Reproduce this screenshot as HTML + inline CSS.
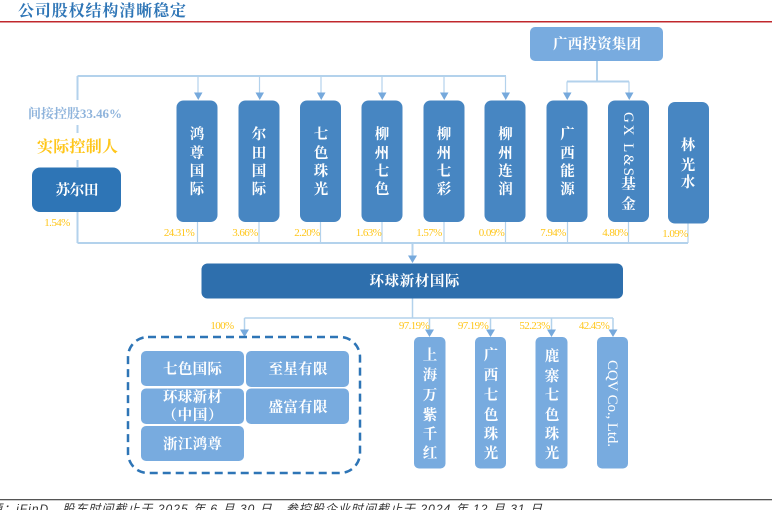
<!DOCTYPE html>
<html lang="zh"><head><meta charset="utf-8">
<style>
html,body{margin:0;padding:0;background:#fff;width:772px;height:510px;overflow:hidden}
svg{display:block}
text{font-family:"Liberation Serif","Noto Serif CJK SC",serif}
.w{fill:#fff;font-size:14.500px;text-anchor:middle;font-weight:700}
.p{fill:#ffc61a;font-size:11px;text-anchor:middle;letter-spacing:-.6px}
.l{stroke:#b3d2ec;stroke-width:2;fill:none}
.t{stroke:#b3d2ec;stroke-width:1.200;fill:none}
.a{fill:#76a9dc}
.b{fill:#4786c2}
.c{fill:#78abdf}
</style></head><body>
<svg width="772" height="510" viewBox="0 0 772 510" xmlns="http://www.w3.org/2000/svg">
<text x="18" y="16" font-size="16" font-weight="700" fill="#2e75b6" textLength="168">公司股权结构清晰稳定</text>
<rect x="0" y="21" width="772" height="1.500" fill="#c0282c"/>

<path class="l" d="M77.500 76V100M77.500 125V133M77.500 160V167M77.500 212V243M77.500 76H506M597 61V81.500M567 81.500H629M77.500 243H688M412.500 243V256"/>
<path class="t" d="M198 76V94M259.500 76V94M321 76V94M382 76V94M444 76V94M505.500 76V94M567 81.500V94M629 81.500V94"/>
<path class="t" d="M197.500 222V243M259 222V243M320.500 222V243M382 222V243M444 222V243M505.500 222V243M567.500 222V243M628.500 222V243M688 223V243"/>
<path class="t" d="M412.500 298V318M244.500 318H613M244.500 318V331M429.500 318V331M490.500 318V331M551.500 318V331M613 318V331" style="stroke-width:1.500"/>
<path class="a" d="M194 92.500h8.500l-4.250 7.500zM255.500 92.500h8.500l-4.250 7.500zM317 92.500h8.500l-4.250 7.500zM378 92.500h8.500l-4.250 7.500zM440 92.500h8.500l-4.250 7.500zM501.500 92.500h8.500l-4.250 7.500zM563 92.500h8.500l-4.250 7.500zM625 92.500h8.500l-4.250 7.500zM408 255.500h9l-4.500 7.500zM240 329.500h9l-4.500 7.500zM425 329.500h9l-4.500 7.500zM486 329.500h9l-4.500 7.500zM547 329.500h9l-4.500 7.500zM608.500 329.500h9l-4.500 7.500z"/>

<rect x="530" y="27" width="133" height="34" rx="5" class="c"/>
<text x="597" y="49" class="w" textLength="88">广西投资集团</text>

<rect x="32" y="167.500" width="89" height="44.500" rx="8" fill="#2e75b6"/>
<text x="77" y="195" class="w" textLength="43">苏尔田</text>
<text x="75" y="118" font-size="13" font-weight="700" fill="#8fb4dc" text-anchor="middle" textLength="94">间接控股33.46%</text>
<text x="77.500" y="152" font-size="16" font-weight="700" fill="#ffc61a" text-anchor="middle" textLength="81">实际控制人</text>

<rect x="176.500" y="100.500" width="41" height="121.500" rx="7" class="b"/>
<rect x="238.500" y="100.500" width="41" height="121.500" rx="7" class="b"/>
<rect x="300" y="100.500" width="41" height="121.500" rx="7" class="b"/>
<rect x="361.500" y="100.500" width="41" height="121.500" rx="7" class="b"/>
<rect x="423.500" y="100.500" width="41" height="121.500" rx="7" class="b"/>
<rect x="484.500" y="100.500" width="41" height="121.500" rx="7" class="b"/>
<rect x="546.500" y="100.500" width="41" height="121.500" rx="7" class="b"/>
<rect x="608" y="100.500" width="41" height="121.500" rx="7" class="b"/>
<rect x="668" y="102" width="41" height="121.500" rx="7" class="b"/>

<text class="w" x="197" y="139">鸿</text><text class="w" x="197" y="158">尊</text><text class="w" x="197" y="176">国</text><text class="w" x="197" y="194">际</text>
<text class="w" x="259" y="139">尔</text><text class="w" x="259" y="158">田</text><text class="w" x="259" y="176">国</text><text class="w" x="259" y="194">际</text>
<text class="w" x="321" y="139">七</text><text class="w" x="321" y="158">色</text><text class="w" x="321" y="176">珠</text><text class="w" x="321" y="194">光</text>
<text class="w" x="382" y="139">柳</text><text class="w" x="382" y="158">州</text><text class="w" x="382" y="176">七</text><text class="w" x="382" y="194">色</text>
<text class="w" x="444" y="139">柳</text><text class="w" x="444" y="158">州</text><text class="w" x="444" y="176">七</text><text class="w" x="444" y="194">彩</text>
<text class="w" x="505.500" y="139">柳</text><text class="w" x="505.500" y="158">州</text><text class="w" x="505.500" y="176">连</text><text class="w" x="505.500" y="194">润</text>
<text class="w" x="567.500" y="139">广</text><text class="w" x="567.500" y="158">西</text><text class="w" x="567.500" y="176">能</text><text class="w" x="567.500" y="194">源</text>
<text fill="#fff" font-size="15" transform="translate(624 112) rotate(90)" textLength="64">GX L&amp;S</text>
<text class="w" x="628.500" y="189">基</text><text class="w" x="628.500" y="209">金</text>
<text class="w" x="688" y="150">林</text><text class="w" x="688" y="170">光</text><text class="w" x="688" y="187">水</text>

<text class="p" x="179" y="236">24.31%</text>
<text class="p" x="245" y="236">3.66%</text>
<text class="p" x="307" y="236">2.20%</text>
<text class="p" x="368.500" y="236">1.63%</text>
<text class="p" x="429" y="236">1.57%</text>
<text class="p" x="491.500" y="236">0.09%</text>
<text class="p" x="553" y="236">7.94%</text>
<text class="p" x="615" y="236">4.80%</text>
<text class="p" x="675" y="237">1.09%</text>
<text class="p" x="57" y="226">1.54%</text>

<rect x="201.500" y="263.500" width="421.500" height="35" rx="6" fill="#2e6fad"/>
<text class="w" x="414.500" y="286" textLength="90">环球新材国际</text>

<text class="p" x="222" y="329">100%</text>
<text class="p" x="414" y="329">97.19%</text>
<text class="p" x="473" y="329">97.19%</text>
<text class="p" x="534.500" y="329">52.23%</text>
<text class="p" x="594" y="329">42.45%</text>

<rect x="128" y="337" width="232" height="136" rx="20" fill="none" stroke="#2e75b6" stroke-width="2.500" stroke-dasharray="8 5"/>
<rect x="141" y="351" width="103" height="35" rx="5" class="c"/>
<rect x="246" y="351" width="103" height="36" rx="5" class="c"/>
<rect x="141" y="388.500" width="103" height="35.500" rx="5" class="c"/>
<rect x="246" y="388.500" width="103" height="35.500" rx="5" class="c"/>
<rect x="141" y="426" width="103" height="35" rx="5" class="c"/>
<text class="w" x="192.500" y="374" textLength="59">七色国际</text>
<text class="w" x="298" y="374" textLength="59">至星有限</text>
<text class="w" x="192.500" y="402" textLength="59">环球新材</text>
<text class="w" x="192.500" y="420" textLength="60">（中国）</text>
<text class="w" x="298" y="412" textLength="59">盛富有限</text>
<text class="w" x="192.500" y="449" textLength="59">浙江鸿尊</text>

<rect x="414" y="337" width="31.500" height="131.500" rx="5" class="c"/>
<rect x="475" y="337" width="31" height="131.500" rx="5" class="c"/>
<rect x="535.500" y="337" width="32" height="131.500" rx="5" class="c"/>
<rect x="597" y="337" width="31" height="131.500" rx="5" class="c"/>
<text class="w" x="430" y="360">上</text><text class="w" x="430" y="380">海</text><text class="w" x="430" y="400">万</text><text class="w" x="430" y="420">紫</text><text class="w" x="430" y="439">千</text><text class="w" x="430" y="458">红</text>
<text class="w" x="491" y="360">广</text><text class="w" x="491" y="380">西</text><text class="w" x="491" y="400">七</text><text class="w" x="491" y="420">色</text><text class="w" x="491" y="439">珠</text><text class="w" x="491" y="458">光</text>
<text class="w" x="552" y="361">鹿</text><text class="w" x="552" y="381">寨</text><text class="w" x="552" y="400">七</text><text class="w" x="552" y="420">色</text><text class="w" x="552" y="439">珠</text><text class="w" x="552" y="458">光</text>
<text fill="#fff" font-size="15" transform="translate(608 360) rotate(90)" textLength="87">CQV Co., Ltd.</text>

<rect x="0" y="499" width="772" height="1.300" fill="#555"/>
<text x="-10" y="513" font-size="12" font-style="italic" fill="#333" style="font-family:'Liberation Sans','Noto Sans CJK SC',sans-serif" textLength="552">源：iFinD，股东时间截止于 2025 年 6 月 30 日，参控股企业时间截止于 2024 年 12 月 31 日</text>
</svg>
</body></html>
